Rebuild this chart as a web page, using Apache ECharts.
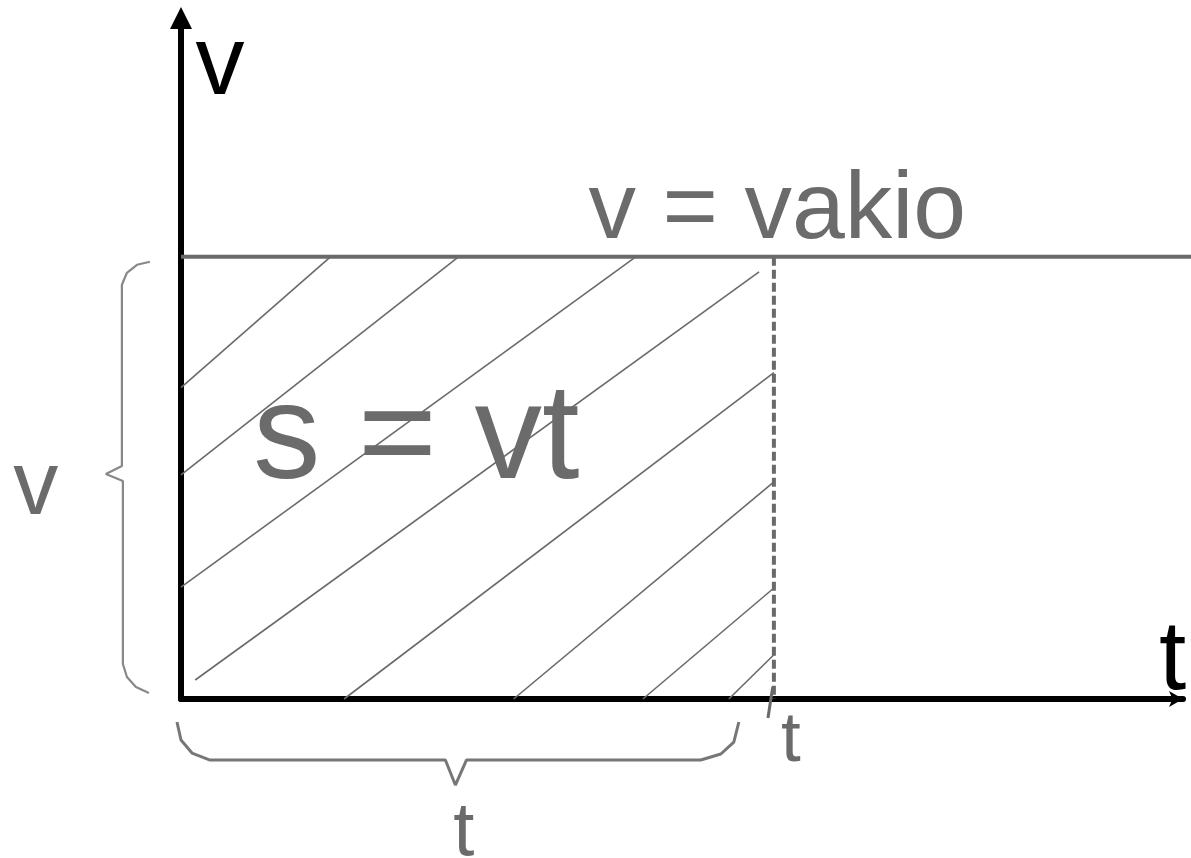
<!DOCTYPE html>
<html>
<head>
<meta charset="utf-8">
<script src="https://cdn.jsdelivr.net/npm/echarts@6/dist/echarts.min.js"></script>
<style>
  html, body { margin: 0; padding: 0; background: #fff; }
  #main { width: 1191px; height: 858px; }
</style>
</head>
<body>
<div id="main"></div>
<script>
// v = vakio, aika t (yksiköt: v = 1, t = 1)
var constLine = [[0, 1], [1.72, 1]];
var timeLine = [[1, 1], [1, 0]];
var timeTick = [[0.998, 0.027], [0.99, -0.043]];

// vinoviivoitus (alku, loppu)
var hatchLines = [
  [[0.252, 1], [0, 0.704]],
  [[0.468, 1], [0, 0.507]],
  [[0.767, 1], [0, 0.253]],
  [[0.975, 0.966], [0.024, 0.043]],
  [[1, 0.738], [0.275, 0]],
  [[1, 0.491], [0.561, 0]],
  [[1, 0.251], [0.779, 0]],
  [[1, 0.1], [0.924, 0]]
];

// aaltosulut
var braceV = [
  [-0.0524, 0.9887], [-0.0743, 0.9819], [-0.0912, 0.9638], [-0.0997, 0.9367],
  [-0.0997, 0.5271], [-0.1267, 0.509], [-0.098, 0.4932], [-0.098, 0.0792],
  [-0.0912, 0.0498], [-0.076, 0.0271], [-0.0541, 0.0136]
];
var braceT = [
  [-0.0068, -0.052], [0, -0.0928], [0.0186, -0.1222], [0.049, -0.138],
  [0.4459, -0.138], [0.4628, -0.1946], [0.4814, -0.138], [0.8767, -0.138],
  [0.9105, -0.1244], [0.9324, -0.0973], [0.9409, -0.052]
];

// tekstit: [x, y, teksti, koko, väri, tasaus]
var labels = [
  [0.0659, 1.430, "v", 98, "#000", "center"],
  [1.6723, 0.083, "t", 98, "#000", "center"],
  [0.6875, 1.101, "v = vakio", 95, "#6b6b6b", "left"],
  [0.1216, 0.584, "s = vt", 135, "#6b6b6b", "left"],
  [-0.2449, 0.475, "v", 90, "#6b6b6b", "center"],
  [1.0287, -0.097, "t", 71, "#6b6b6b", "center"],
  [0.4772, -0.305, "t", 76, "#6b6b6b", "center"]
];

var gray = "#6a6a6a";

// pääkoordinaatisto
var gLeft = 181, gRight = 8, gTop = 18, gBottom = 159;
var xMax = 1.69, yMax = 1.54;
var W = 1191, H = 858;
var xUnit = (W - gLeft - gRight) / xMax;
var yUnit = (H - gTop - gBottom) / yMax;

function lineSeries(data, color, width, type, grid) {
  return {
    type: "line",
    data: data,
    symbol: "none",
    clip: false,
    silent: true,
    xAxisIndex: grid || 0,
    yAxisIndex: grid || 0,
    z: 3,
    lineStyle: { color: color, width: width, type: type || "solid" }
  };
}

var series = [];
hatchLines.forEach(function (seg) {
  series.push(lineSeries(seg, "#6a6a6a", 1.6));
});
series.push(lineSeries(constLine, gray, 4, "solid", 1));
series.push(lineSeries(timeLine, gray, 4, [9, 4]));
series.push(lineSeries(timeTick, gray, 3, "solid", 1));
series.push(lineSeries(braceV, "#888", 2.2, "solid", 1));
series.push(lineSeries(braceT, "#777", 3, "solid", 1));

series.push({
  type: "scatter",
  xAxisIndex: 1,
  yAxisIndex: 1,
  symbolSize: 1,
  silent: true,
  z: 5,
  itemStyle: { color: "transparent", opacity: 1 },
  data: labels.map(function (l) {
    return {
      value: [l[0], l[1]],
      label: {
        show: true,
        position: "inside",
        formatter: l[2],
        fontSize: l[3],
        color: l[4],
        opacity: 1,
        textBorderWidth: 0,
        align: l[5],
        verticalAlign: "middle",
        fontFamily: "Liberation Sans, Arial, sans-serif"
      }
    };
  })
});

var hiddenAxis = {
  show: false,
  type: "value",
  axisLine: { show: false },
  axisTick: { show: false },
  axisLabel: { show: false },
  splitLine: { show: false }
};

var chart = echarts.init(document.getElementById("main"));
var option = {
  animation: false,
  backgroundColor: "#fff",
  grid: [
    { left: gLeft, right: gRight, top: gTop, bottom: gBottom, containLabel: false, outerBoundsMode: "none" },
    // koko kuva, sama mittakaava (merkinnät akselien ulkopuolella)
    { left: 0, right: 0, top: 0, bottom: 0, containLabel: false, outerBoundsMode: "none" }
  ],
  xAxis: [
    {
      type: "value",
      gridIndex: 0,
      min: 0,
      max: xMax,
      axisLine: {
        onZero: false,
        symbol: ["none", "arrow"],
        symbolSize: [12, 14],
        lineStyle: { color: "#000", width: 6 }
      },
      axisTick: { show: false },
      axisLabel: { show: false },
      splitLine: { show: false }
    },
    Object.assign({}, hiddenAxis, {
      gridIndex: 1,
      min: -gLeft / xUnit,
      max: (W - gLeft) / xUnit
    })
  ],
  yAxis: [
    {
      type: "value",
      gridIndex: 0,
      min: 0,
      max: yMax,
      axisLine: {
        show: true,
        onZero: false,
        symbol: ["none", "triangle"],
        symbolSize: [22, 22],
        lineStyle: { color: "#000", width: 6 }
      },
      axisTick: { show: false },
      axisLabel: { show: false },
      splitLine: { show: false }
    },
    Object.assign({}, hiddenAxis, {
      gridIndex: 1,
      min: -gBottom / yUnit,
      max: (H - gBottom) / yUnit
    })
  ],
  series: series
};
chart.setOption(option);
</script>
</body>
</html>
